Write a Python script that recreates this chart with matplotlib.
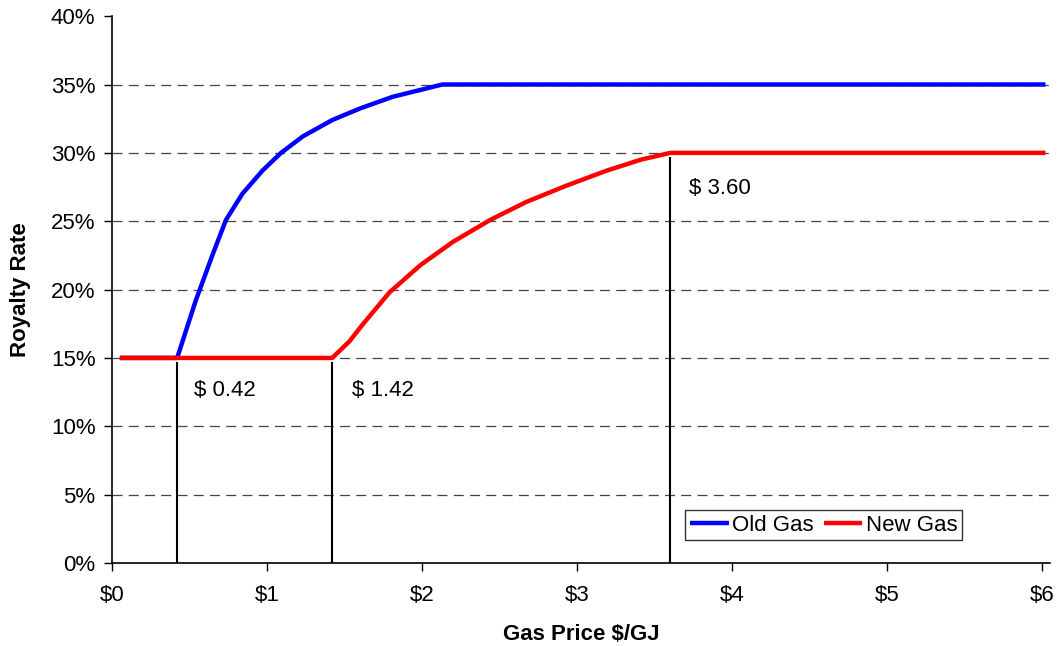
import matplotlib
matplotlib.use("Agg")
import matplotlib.pyplot as plt
from matplotlib.ticker import FuncFormatter

plt.rcParams['font.family'] = ['Liberation Sans', 'DejaVu Sans']

# Royalty rate schedules (price in $/GJ, rate in %)
old_price = [0.05, 0.42, 0.54, 0.65, 0.735, 0.84, 0.97, 1.09, 1.23, 1.42, 1.60, 1.81, 2.13, 6.02]
old_rate = [15.0, 15.0, 19.2, 22.6, 25.1, 27.0, 28.7, 30.0, 31.2, 32.4, 33.25, 34.1, 35.0, 35.0]

new_price = [0.05, 1.42, 1.53, 1.62, 1.79, 1.99, 2.20, 2.44, 2.67, 2.93, 3.19, 3.41, 3.60, 6.02]
new_rate = [15.0, 15.0, 16.2, 17.5, 19.8, 21.8, 23.5, 25.1, 26.4, 27.6, 28.7, 29.5, 30.0, 30.0]

# Threshold prices and the rate at which each threshold marker stops
thresholds = [0.42, 1.42, 3.60]
threshold_tops = [15.0, 15.0, 30.0]
threshold_labels = ["$ 0.42", "$ 1.42", "$ 3.60"]

x_ticks = [0, 1, 2, 3, 4, 5, 6]
y_ticks = [0, 5, 10, 15, 20, 25, 30, 35, 40]

fig = plt.figure(figsize=(10.6, 6.46), dpi=100)
ax = fig.add_axes([0.1057, 0.1285, 0.885, 0.8465])

fs = 16

# Threshold markers
for xv, top in zip(thresholds, threshold_tops):
    ax.plot([xv, xv], [0, top - 0.35], color='black', lw=1.5, zorder=2)

ax.plot(old_price, old_rate, color='#0000FF', lw=3.2, label='Old Gas', zorder=3,
        solid_capstyle='butt', solid_joinstyle='round')
ax.plot(new_price, new_rate, color='#FF0000', lw=3.2, label='New Gas', zorder=3,
        solid_capstyle='butt', solid_joinstyle='round')

# Threshold labels
label_offsets = [(0.11, -2.4), (0.13, -2.4), (0.12, -2.6)]
for xv, top, txt, (dx, dy) in zip(thresholds, threshold_tops, threshold_labels, label_offsets):
    ax.text(xv + dx, top + dy, txt, fontsize=fs, ha='left', va='center')

ax.set_xlim(0, 6.05)
ax.set_ylim(0, 40)
ax.set_xticks(x_ticks)
ax.set_yticks(y_ticks)
ax.xaxis.set_major_formatter(FuncFormatter(lambda v, p: f"${v:.0f}"))
ax.yaxis.set_major_formatter(FuncFormatter(lambda v, p: f"{v:.0f}%"))
ax.tick_params(axis='both', direction='out', length=6, width=1, colors='black',
               labelsize=fs)
ax.tick_params(axis='x', pad=10)
ax.tick_params(axis='y', pad=6)

ax.grid(axis='y', linestyle=(0, (8, 5)), color='#444444', lw=0.9, zorder=1)
ax.yaxis.get_gridlines()[-1].set_visible(False)
ax.yaxis.get_gridlines()[0].set_visible(False)

for side in ['top', 'right']:
    ax.spines[side].set_visible(False)
for side in ['left', 'bottom']:
    ax.spines[side].set_linewidth(1.2)
    ax.spines[side].set_color('black')

ax.set_xlabel('Gas Price $/GJ', fontsize=fs, fontweight='bold', labelpad=13)
ax.set_ylabel('Royalty Rate', fontsize=fs, fontweight='bold', labelpad=14)

leg = ax.legend(loc='lower left', bbox_to_anchor=(0.611, 0.042), ncol=2,
                fontsize=fs, frameon=True, fancybox=False, handlelength=1.75,
                handletextpad=0.15, columnspacing=0.45, borderpad=0.2,
                borderaxespad=0)
leg.get_frame().set_edgecolor('black')
leg.get_frame().set_linewidth(1.0)

fig.savefig('out.png', dpi=100)
